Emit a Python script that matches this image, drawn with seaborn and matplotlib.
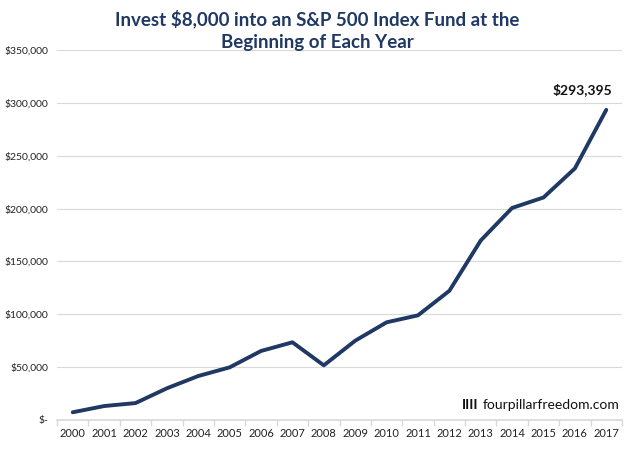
import pandas as pd
import matplotlib.pyplot as plt
import seaborn as sns
from matplotlib.ticker import FuncFormatter, FixedLocator

# data
years = [
    "2000", "2001", "2002", "2003", "2004", "2005", "2006", "2007", "2008",
    "2009", "2010", "2011", "2012", "2013", "2014", "2015", "2016", "2017"
]
balance = [
    7300, 13200, 16000, 30000, 41600, 49800, 65300, 73500, 51700,
    75000, 92400, 99000, 122200, 169800, 200600, 210500, 238000, 293395
]

navy = "#203864"

df = pd.DataFrame({"year": years, "balance": balance})
df["pos"] = range(len(df))

sns.set_theme(style="white")
plt.rcParams["font.family"] = ["Lato", "DejaVu Sans"]

fig = plt.figure(figsize=(6.34, 4.49), dpi=100)
ax = fig.add_axes([0.09, 0.0646, 0.891, 0.824])

sns.lineplot(data=df, x="pos", y="balance", color=navy, linewidth=2.8, ax=ax)

ax.set_xlim(-0.5, len(years) - 0.5)
ax.set_ylim(0, 350000)
ax.set_yticks(range(0, 350001, 50000))
ax.yaxis.set_major_formatter(
    FuncFormatter(lambda v, p: "$-" if v == 0 else "${:,.0f}".format(v))
)
ax.set_xticks(df["pos"])
ax.set_xticklabels(years)
ax.xaxis.set_minor_locator(FixedLocator([i - 0.5 for i in range(len(years) + 1)]))
ax.tick_params(axis="x", which="major", length=0, labelsize=8, colors="#222222", pad=6)
ax.tick_params(axis="x", which="minor", length=4, color="#d9d9d9", bottom=True)
ax.tick_params(axis="y", length=0, labelsize=7.5, colors="#222222", pad=6)

ax.grid(axis="y", color="#d9d9d9", linewidth=0.8)
for side in ["top", "right", "left"]:
    ax.spines[side].set_visible(False)
ax.spines["bottom"].set_color("#d9d9d9")
ax.set_xlabel("")
ax.set_ylabel("")

# annotation for final value
last = df.iloc[-1]
ax.annotate("${:,.0f}".format(last["balance"]), (last["pos"], last["balance"]),
            xytext=(-17, 11), textcoords="offset points", ha="center",
            fontsize=10, fontweight="bold", color="#111111")

# watermark
site = ax.text(0.995, 0.025, "fourpillarfreedom.com", transform=ax.transAxes,
               ha="right", va="bottom", fontsize=10, color="#111111")
ax.annotate("IIII", xy=(0, 0), xycoords=site, xytext=(-3, 0),
            textcoords="offset points", ha="right", va="bottom",
            fontsize=10, fontweight="bold", color="#111111")

fig.text(0.50, 0.933, "Invest $8,000 into an S&P 500 Index Fund at the\nBeginning of Each Year",
         ha="center", va="center", fontsize=13.5, fontweight="bold",
         color=navy, linespacing=1.45)

fig.savefig("out.png", dpi=100)
